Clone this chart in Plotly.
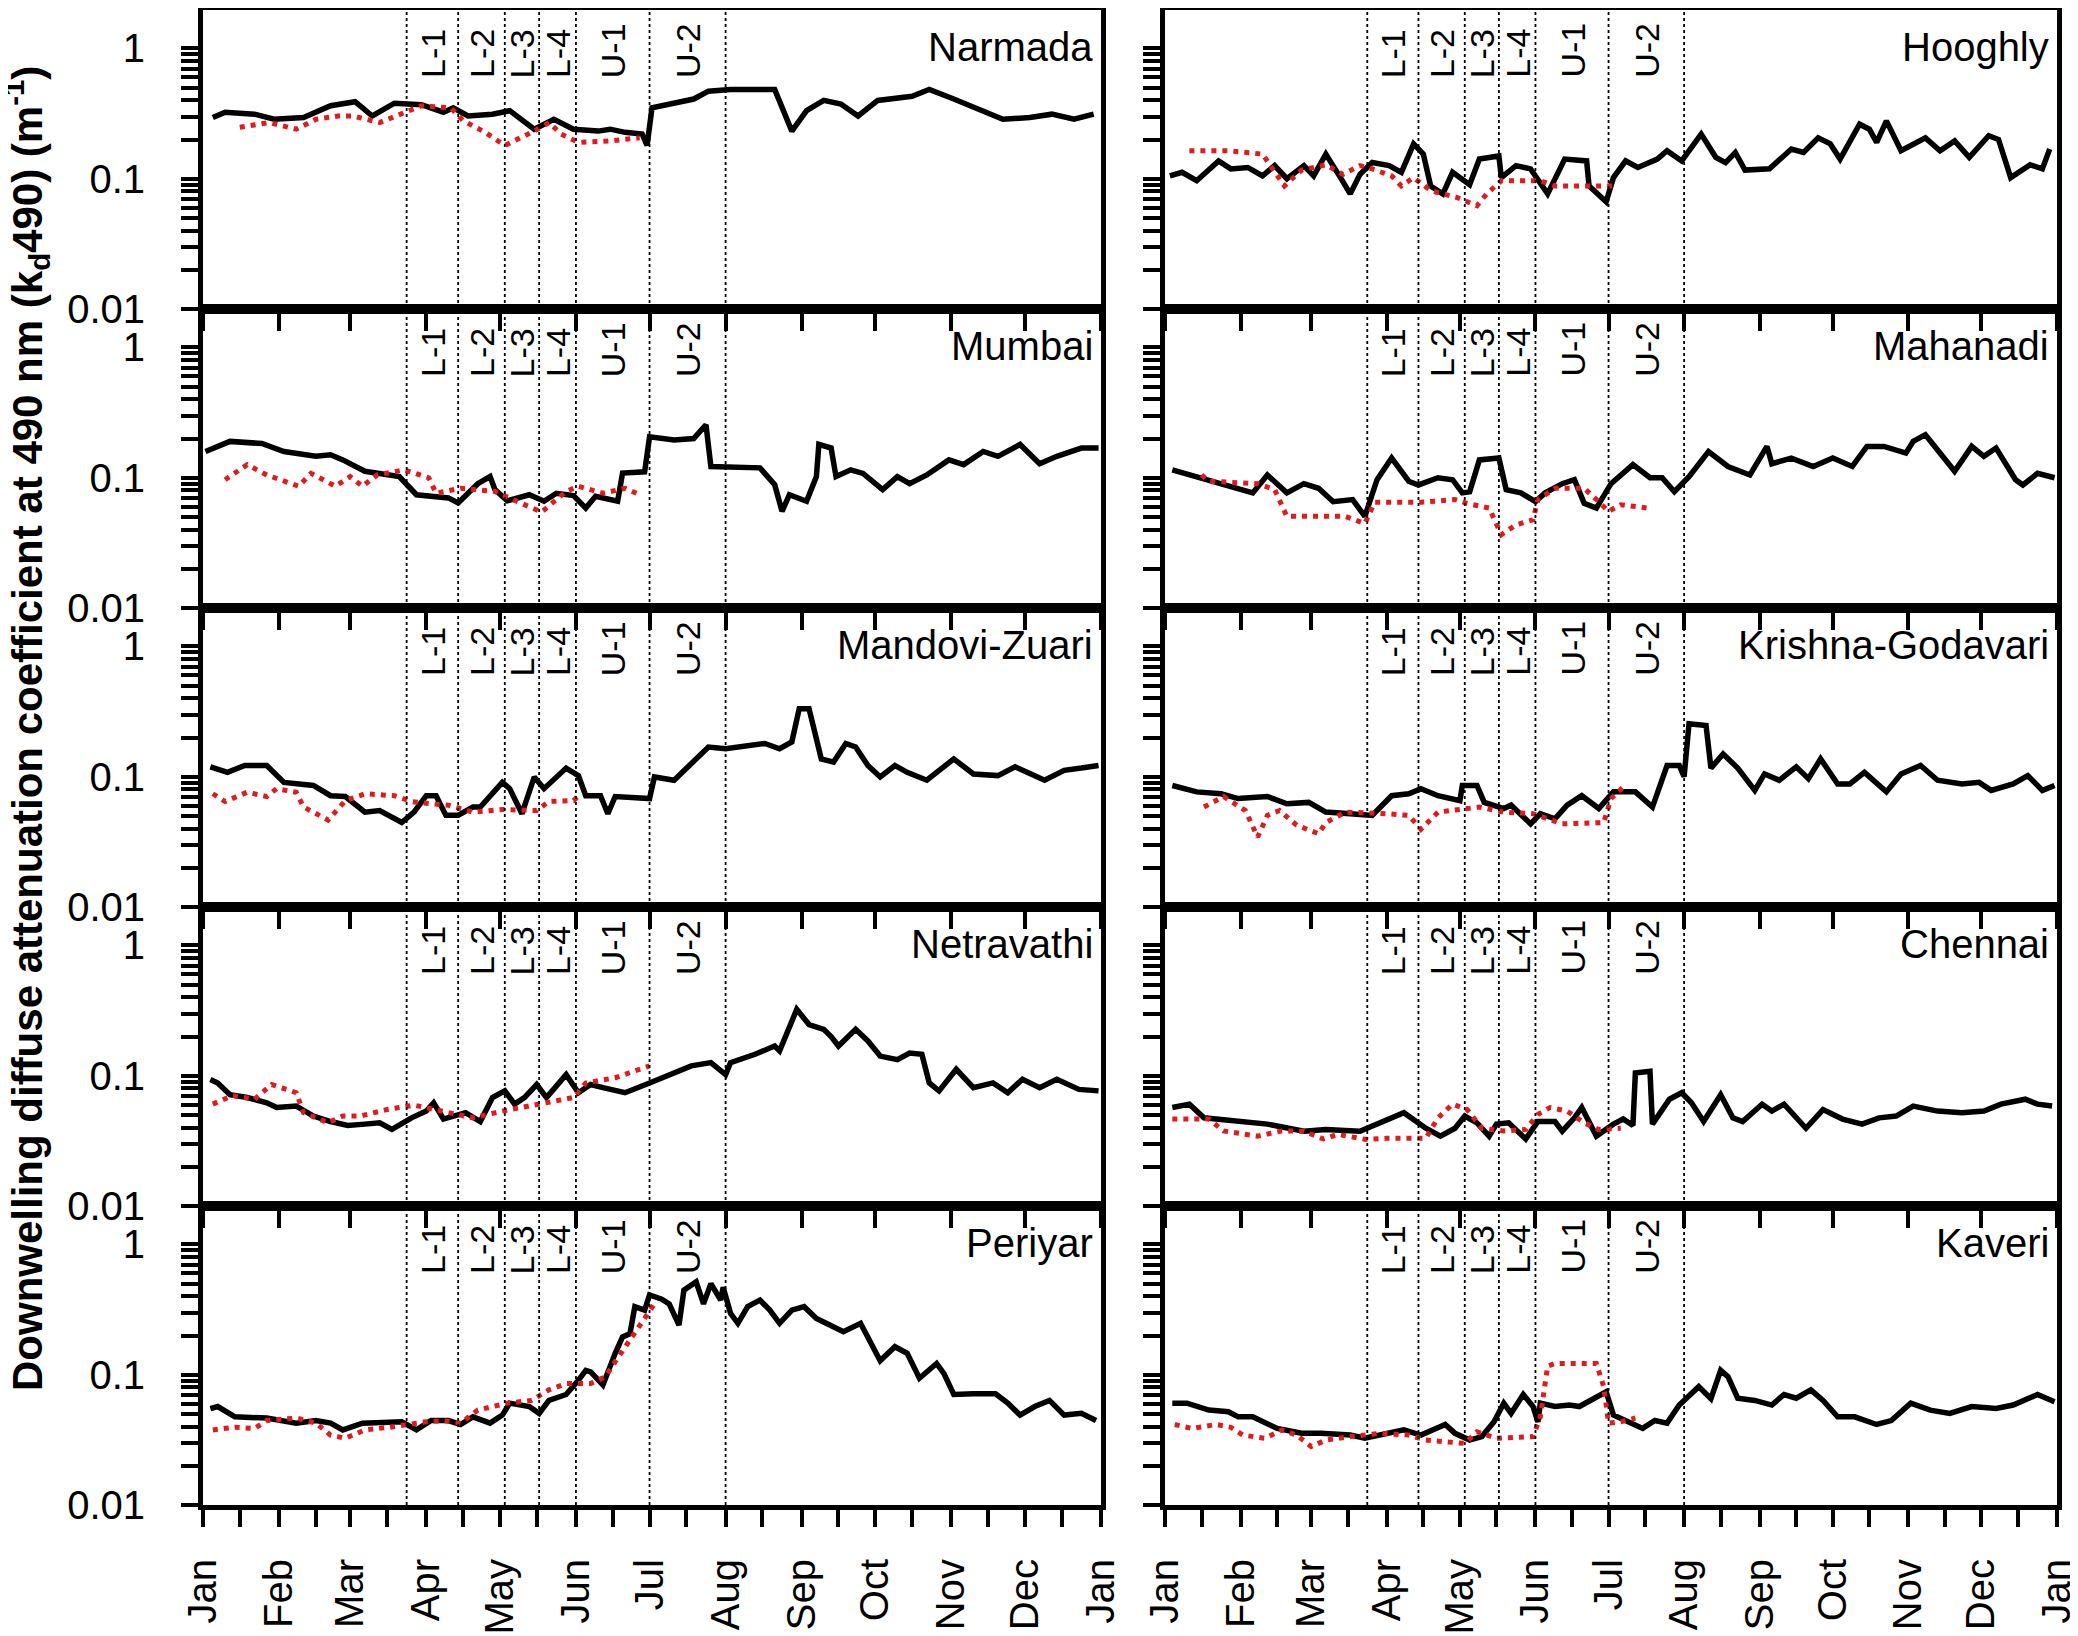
import pandas as pd
import plotly.graph_objects as go
from plotly.subplots import make_subplots

# day of year (0 = 1 Jan 2020) and Kd490 (m^-1)
# black = 2020, red dotted = climatology (Jan-Jul)
narmada_day = [4, 9, 21, 29, 41, 52, 62, 69, 78, 89, 98, 102, 108, 118, 125, 135, 143, 151, 161, 166,
               172, 179, 181, 183, 200, 206, 215, 233, 240, 246, 253, 260, 267, 275, 289, 296, 306, 317, 326, 337,
               346, 355, 363]
narmada_kd = [0.295, 0.324, 0.313, 0.286, 0.295, 0.363, 0.39, 0.303, 0.38, 0.37, 0.324, 0.35, 0.303, 0.313, 0.333, 0.24, 0.286, 0.24, 0.232, 0.24,
              0.227, 0.22, 0.18, 0.35, 0.409, 0.47, 0.484, 0.484, 0.232, 0.333, 0.399, 0.374, 0.303, 0.399, 0.43, 0.484, 0.409, 0.34, 0.286, 0.295,
              0.313, 0.286, 0.313]
narmada_clim_day = [15, 27, 38, 46, 55, 61, 72, 81, 89, 101, 106, 115, 123, 135, 141, 146, 153, 166, 178]
narmada_clim_kd = [0.248, 0.27, 0.24, 0.286, 0.303, 0.303, 0.27, 0.313, 0.363, 0.35, 0.279, 0.227, 0.18, 0.232, 0.27, 0.22, 0.19, 0.195, 0.206]

hooghly_day = [2, 7, 13, 22, 27, 34, 40, 45, 50, 57, 61, 66, 72, 76, 80, 85, 92, 97, 102, 106,
               109, 114, 118, 125, 129, 137, 138, 144, 150, 157, 164, 173, 174, 181, 184, 189, 194, 202, 206, 212,
               220, 226, 230, 234, 238, 248, 257, 262, 268, 273, 277, 285, 289, 292, 296, 302, 312, 318, 324, 330,
               338, 342, 347, 355, 360, 363]
hooghly_kd = [0.105, 0.112, 0.0965, 0.137, 0.119, 0.122, 0.105, 0.126, 0.1, 0.126, 0.105, 0.1545, 0.102, 0.0765, 0.108, 0.133, 0.126, 0.112, 0.185, 0.1545,
              0.088, 0.0765, 0.112, 0.09, 0.1415, 0.1495, 0.102, 0.126, 0.119, 0.0765, 0.1415, 0.137, 0.088, 0.0665, 0.102, 0.137, 0.122, 0.1415, 0.164, 0.137,
              0.22, 0.146, 0.133, 0.159, 0.1165, 0.119, 0.169, 0.159, 0.206, 0.185, 0.1415, 0.262, 0.24, 0.19, 0.278, 0.164, 0.206, 0.164, 0.195, 0.146,
              0.214, 0.2, 0.102, 0.128, 0.119, 0.169]
hooghly_clim_day = [10, 19, 26, 40, 44, 49, 56, 66, 73, 80, 85, 93, 97, 102, 109, 120, 128, 132, 138, 154, 160, 176, 184]
hooghly_clim_kd = [0.164, 0.164, 0.164, 0.1545, 0.122, 0.088, 0.1165, 0.128, 0.108, 0.126, 0.119, 0.105, 0.088, 0.102, 0.081, 0.0715, 0.062, 0.0765,
                   0.0965, 0.0965, 0.088, 0.088, 0.088]

mumbai_day = [1, 11, 24, 33, 46, 52, 57, 66, 80, 87, 100, 104, 112, 117, 119, 124, 133, 139, 144, 151,
              156, 160, 169, 171, 180, 182, 192, 200, 205, 207, 227, 233, 236, 239, 246, 250, 251, 256, 258, 264,
              269, 277, 283, 288, 295, 304, 310, 318, 324, 333, 341, 348, 358, 365]
mumbai_kd = [0.159, 0.19, 0.183, 0.159, 0.146, 0.15, 0.137, 0.112, 0.102, 0.074, 0.070, 0.064, 0.090, 0.102, 0.081, 0.0665, 0.074, 0.066, 0.076, 0.073,
             0.0585, 0.072, 0.066, 0.1085, 0.111, 0.206, 0.195, 0.2, 0.255, 0.122, 0.119, 0.0884, 0.0552, 0.074, 0.066, 0.102, 0.18, 0.169, 0.102, 0.115,
             0.108, 0.081, 0.102, 0.09, 0.105, 0.137, 0.126, 0.159, 0.146, 0.18, 0.128, 0.146, 0.169, 0.169]
mumbai_clim_day = [9, 18, 26, 39, 44, 54, 60, 65, 71, 82, 92, 95, 105, 119, 129, 138, 148, 153, 163, 172, 177]
mumbai_clim_kd = [0.0965, 0.126, 0.105, 0.086, 0.108, 0.086, 0.102, 0.086, 0.105, 0.115, 0.1, 0.076, 0.083, 0.0785, 0.0645, 0.0545, 0.0785, 0.086,
                  0.076, 0.083, 0.0755]

mahanadi_day = [3, 13, 26, 36, 42, 50, 57, 63, 69, 77, 82, 87, 93, 100, 104, 112, 118, 122, 125, 129,
                137, 140, 146, 152, 156, 163, 168, 172, 177, 183, 192, 199, 204, 209, 215, 223, 231, 240, 247, 249,
                257, 266, 274, 282, 288, 295, 304, 307, 312, 324, 331, 336, 341, 349, 352, 358, 365]
mahanadi_kd = [0.115, 0.102, 0.088, 0.0765, 0.105, 0.0765, 0.09, 0.083, 0.0655, 0.068, 0.0505, 0.0965, 0.1415, 0.094, 0.088, 0.1, 0.0965, 0.0765, 0.078, 0.137,
               0.1415, 0.081, 0.0765, 0.0655, 0.0765, 0.09, 0.0965, 0.0635, 0.0585, 0.09, 0.126, 0.1, 0.1, 0.078, 0.102, 0.159, 0.122, 0.105, 0.174, 0.128,
               0.1415, 0.122, 0.1415, 0.122, 0.174, 0.174, 0.1545, 0.19, 0.214, 0.112, 0.174, 0.146, 0.169, 0.0965, 0.088, 0.108, 0.1]
mahanadi_clim_day = [15, 18, 38, 45, 50, 74, 82, 86, 105, 119, 124, 133, 138, 144, 151, 153, 160, 172, 177, 182, 187, 198]
mahanadi_clim_kd = [0.105, 0.094, 0.09, 0.081, 0.0505, 0.0505, 0.0445, 0.0647, 0.0647, 0.068, 0.0635, 0.0585, 0.0365, 0.0435, 0.0475, 0.068, 0.083,
                    0.083, 0.068, 0.0552, 0.062, 0.0585]

mandovi_day = [3, 10, 17, 26, 33, 45, 52, 58, 66, 72, 81, 86, 91, 95, 99, 104, 110, 113, 122, 125,
               130, 135, 139, 148, 153, 156, 162, 165, 168, 182, 184, 192, 206, 213, 229, 235, 240, 243, 247, 252,
               257, 262, 266, 271, 276, 282, 287, 295, 306, 314, 324, 331, 343, 351, 358, 365]
mandovi_kd = [0.119, 0.108, 0.122, 0.122, 0.0905, 0.0856, 0.0715, 0.0705, 0.0535, 0.055, 0.0445, 0.0535, 0.0715, 0.0715, 0.0505, 0.0505, 0.0585, 0.0585, 0.0905, 0.081,
              0.052, 0.0995, 0.081, 0.1165, 0.102, 0.0715, 0.0715, 0.052, 0.0705, 0.068, 0.0995, 0.094, 0.169, 0.164, 0.18, 0.164, 0.185, 0.333, 0.333, 0.137,
              0.1295, 0.18, 0.169, 0.122, 0.0995, 0.122, 0.108, 0.094, 0.137, 0.105, 0.102, 0.119, 0.094, 0.112, 0.1165, 0.122]
mandovi_clim_day = [4, 9, 18, 26, 30, 38, 41, 51, 58, 66, 78, 85, 93, 100, 110, 122, 136, 141, 151, 153]
mandovi_clim_kd = [0.074, 0.0645, 0.076, 0.0705, 0.081, 0.076, 0.0585, 0.0465, 0.0655, 0.074, 0.0715, 0.0645, 0.062, 0.0605, 0.0535, 0.056, 0.055,
                   0.0647, 0.0655, 0.0715]

krishna_day = [3, 13, 23, 30, 42, 50, 59, 66, 76, 85, 93, 100, 105, 112, 121, 122, 128, 131, 139, 142,
               150, 154, 160, 165, 171, 178, 184, 193, 200, 206, 211, 213, 215, 222, 224, 229, 235, 242, 246, 252,
               259, 264, 269, 276, 281, 287, 296, 302, 310, 317, 327, 334, 339, 348, 354, 360, 365]
krishna_kd = [0.0856, 0.0765, 0.074, 0.068, 0.0705, 0.062, 0.0635, 0.0535, 0.052, 0.0505, 0.0715, 0.074, 0.081, 0.0715, 0.0655, 0.0856, 0.0856, 0.0635, 0.057, 0.0605,
              0.0435, 0.052, 0.0475, 0.0605, 0.0715, 0.057, 0.0765, 0.0765, 0.0585, 0.122, 0.122, 0.1, 0.255, 0.247, 0.1165, 0.1495, 0.1165, 0.0785, 0.105, 0.094,
              0.119, 0.0965, 0.137, 0.088, 0.088, 0.108, 0.0765, 0.105, 0.122, 0.094, 0.088, 0.0905, 0.0785, 0.088, 0.102, 0.0785, 0.0856]
krishna_clim_day = [16, 24, 33, 38, 42, 47, 54, 63, 66, 74, 91, 100, 105, 112, 129, 139, 151, 163, 180, 183, 188]
krishna_clim_kd = [0.0585, 0.0705, 0.055, 0.0344, 0.0505, 0.055, 0.0425, 0.0365, 0.0445, 0.0535, 0.052, 0.0505, 0.0395, 0.0535, 0.0585, 0.0535,
                   0.052, 0.0435, 0.0445, 0.068, 0.083]

netravathi_day = [3, 6, 11, 18, 26, 30, 38, 45, 52, 59, 66, 72, 77, 85, 91, 94, 98, 107, 113, 118,
                  123, 127, 131, 136, 140, 148, 153, 158, 163, 172, 182, 192, 199, 207, 213, 215, 225, 233, 235, 240,
                  242, 247, 253, 256, 259, 266, 271, 276, 283, 288, 293, 296, 300, 307, 314, 322, 328, 334, 341, 348,
                  357, 365]
netravathi_kd = [0.0937, 0.088, 0.0715, 0.068, 0.062, 0.057, 0.0585, 0.049, 0.0445, 0.0415, 0.0425, 0.0435, 0.0387, 0.0475, 0.0535, 0.062, 0.0465, 0.052, 0.0445, 0.068,
                 0.0765, 0.0605, 0.068, 0.0856, 0.068, 0.102, 0.074, 0.0856, 0.081, 0.074, 0.088, 0.105, 0.119, 0.126, 0.102, 0.126, 0.146, 0.169, 0.155, 0.262,
                 0.323, 0.247, 0.227, 0.2, 0.169, 0.227, 0.185, 0.1415, 0.133, 0.1495, 0.146, 0.088, 0.0765, 0.112, 0.081, 0.088, 0.074, 0.094, 0.081, 0.094,
                 0.0785, 0.0765]
netravathi_clim_day = [4, 12, 21, 28, 38, 41, 51, 57, 64, 75, 86, 98, 110, 122, 139, 151, 156, 168, 182]
netravathi_clim_kd = [0.0605, 0.0705, 0.066, 0.0856, 0.074, 0.052, 0.0435, 0.049, 0.049, 0.055, 0.0595, 0.0535, 0.0475, 0.0535, 0.062, 0.068,
                      0.088, 0.0965, 0.119]

chennai_day = [3, 10, 16, 30, 42, 57, 66, 80, 88, 98, 107, 113, 119, 123, 128, 133, 136, 141, 148, 153,
               160, 163, 168, 171, 177, 184, 188, 192, 193, 199, 200, 204, 207, 212, 216, 221, 228, 233, 237, 245,
               249, 254, 263, 270, 278, 286, 293, 300, 307, 317, 327, 336, 343, 353, 358, 364]
chennai_kd = [0.057, 0.0605, 0.0475, 0.0445, 0.0425, 0.0375, 0.0387, 0.0375, 0.0435, 0.052, 0.0395, 0.0344, 0.0395, 0.049, 0.0435, 0.0344, 0.0425, 0.0435, 0.0327, 0.0445,
              0.0445, 0.0375, 0.0475, 0.057, 0.0344, 0.0425, 0.0465, 0.0415, 0.105, 0.108, 0.0425, 0.0535, 0.066, 0.074, 0.062, 0.0445, 0.0715, 0.0475, 0.0445, 0.0605,
              0.0535, 0.0605, 0.0395, 0.055, 0.0465, 0.0425, 0.0475, 0.049, 0.0585, 0.0535, 0.052, 0.0535, 0.0605, 0.066, 0.0605, 0.0585]
chennai_clim_day = [3, 18, 24, 38, 48, 57, 65, 71, 82, 91, 107, 112, 118, 124, 130, 139, 148, 153, 158, 165, 172, 178, 187]
chennai_clim_kd = [0.0465, 0.0465, 0.0377, 0.0344, 0.0377, 0.0375, 0.0327, 0.0355, 0.0325, 0.0331, 0.0331, 0.0475, 0.0605, 0.055, 0.0395, 0.0377,
                   0.0387, 0.0505, 0.057, 0.0535, 0.0435, 0.0387, 0.0395]

periyar_day = [3, 6, 13, 26, 38, 46, 52, 57, 65, 74, 81, 87, 93, 100, 105, 110, 117, 122, 125, 133,
               137, 141, 148, 153, 156, 158, 163, 168, 171, 174, 176, 180, 182, 187, 190, 194, 196, 201, 204, 207,
               211, 212, 215, 218, 222, 227, 231, 235, 240, 245, 250, 254, 261, 268, 271, 276, 282, 287, 292, 299,
               302, 306, 314, 323, 328, 333, 339, 345, 351, 358, 364]
periyar_kd = [0.055, 0.057, 0.0475, 0.0465, 0.0425, 0.0445, 0.0425, 0.0377, 0.0425, 0.0425, 0.0435, 0.0377, 0.0445, 0.0445, 0.0415, 0.0475, 0.0425, 0.049, 0.0605, 0.057,
              0.0505, 0.0635, 0.0705, 0.0905, 0.108, 0.105, 0.0835, 0.146, 0.195, 0.206, 0.333, 0.313, 0.409, 0.38, 0.35, 0.24, 0.446, 0.517, 0.35, 0.5,
              0.374, 0.47, 0.296, 0.248, 0.333, 0.374, 0.313, 0.248, 0.313, 0.333, 0.27, 0.248, 0.214, 0.248, 0.195, 0.128, 0.164, 0.146, 0.094, 0.122,
              0.102, 0.0705, 0.0715, 0.0715, 0.0605, 0.049, 0.057, 0.0635, 0.049, 0.0505, 0.0445]
periyar_clim_day = [4, 13, 21, 26, 38, 46, 52, 58, 66, 76, 91, 98, 105, 112, 124, 134, 141, 148, 158, 164, 168, 172, 177, 181, 184]
periyar_clim_kd = [0.0377, 0.0395, 0.0387, 0.0445, 0.0465, 0.0425, 0.0344, 0.0325, 0.0377, 0.0395, 0.0435, 0.0445, 0.0425, 0.0535, 0.0605, 0.0635,
                   0.0765, 0.0856, 0.0856, 0.0965, 0.126, 0.164, 0.227, 0.286, 0.35]

kaveri_day = [3, 9, 18, 26, 30, 36, 46, 56, 64, 76, 82, 91, 98, 105, 115, 119, 125, 130, 135, 139,
              142, 147, 151, 153, 154, 160, 166, 170, 175, 181, 184, 189, 196, 201, 206, 211, 219, 224, 228, 231,
              235, 242, 249, 254, 259, 265, 270, 276, 283, 292, 298, 306, 314, 322, 331, 341, 348, 358, 365]
kaveri_kd = [0.0605, 0.0605, 0.0535, 0.052, 0.0475, 0.0475, 0.0387, 0.0355, 0.0355, 0.0344, 0.0325, 0.0355, 0.0377, 0.0344, 0.0415, 0.0355, 0.0315, 0.0335, 0.0435, 0.0605,
             0.0505, 0.0705, 0.057, 0.0435, 0.0605, 0.057, 0.0585, 0.057, 0.0635, 0.074, 0.049, 0.0445, 0.0387, 0.0445, 0.0425, 0.0585, 0.081, 0.0655, 0.108, 0.0965,
             0.066, 0.0635, 0.0585, 0.0705, 0.066, 0.0765, 0.0635, 0.0475, 0.0475, 0.0415, 0.0445, 0.0605, 0.0535, 0.0505, 0.057, 0.055, 0.0585, 0.0705, 0.062]
kaveri_clim_day = [4, 11, 21, 27, 32, 41, 48, 54, 60, 66, 76, 88, 100, 107, 123, 128, 136, 151, 154, 157, 160, 177, 180, 182, 187, 193]
kaveri_clim_kd = [0.0415, 0.0387, 0.0415, 0.0395, 0.0344, 0.0325, 0.0377, 0.0344, 0.0281, 0.0315, 0.0335, 0.0355, 0.0344, 0.0315, 0.0297, 0.0365,
                  0.0325, 0.0335, 0.0475, 0.1165, 0.122, 0.122, 0.081, 0.0425, 0.0435, 0.0465]

# lockdown / unlock phases
phase_dates = ["2020-03-24", "2020-04-14", "2020-05-03", "2020-05-17", "2020-06-01", "2020-07-01", "2020-08-01"]
phase_labels = ["L-1", "L-2", "L-3", "L-4", "U-1", "U-2"]

month_names = ["Jan", "Feb", "Mar", "Apr", "May", "Jun", "Jul", "Aug", "Sep", "Oct", "Nov", "Dec", "Jan"]

# (name, row, col, 2020 series, climatology series)
panels = [
    ("Narmada", 1, 1, narmada_day, narmada_kd, narmada_clim_day, narmada_clim_kd),
    ("Mumbai", 2, 1, mumbai_day, mumbai_kd, mumbai_clim_day, mumbai_clim_kd),
    ("Mandovi-Zuari", 3, 1, mandovi_day, mandovi_kd, mandovi_clim_day, mandovi_clim_kd),
    ("Netravathi", 4, 1, netravathi_day, netravathi_kd, netravathi_clim_day, netravathi_clim_kd),
    ("Periyar", 5, 1, periyar_day, periyar_kd, periyar_clim_day, periyar_clim_kd),
    ("Hooghly", 1, 2, hooghly_day, hooghly_kd, hooghly_clim_day, hooghly_clim_kd),
    ("Mahanadi", 2, 2, mahanadi_day, mahanadi_kd, mahanadi_clim_day, mahanadi_clim_kd),
    ("Krishna-Godavari", 3, 2, krishna_day, krishna_kd, krishna_clim_day, krishna_clim_kd),
    ("Chennai", 4, 2, chennai_day, chennai_kd, chennai_clim_day, chennai_clim_kd),
    ("Kaveri", 5, 2, kaveri_day, kaveri_kd, kaveri_clim_day, kaveri_clim_kd),
]

start = pd.Timestamp("2020-01-01")


def to_dates(days):
    return start + pd.to_timedelta(days, unit="D")


month_starts = pd.date_range("2020-01-01", "2021-01-01", freq="MS")
half_months = sorted(list(month_starts) + [d + pd.Timedelta(days=15) for d in month_starts[:-1]])
half_text = [month_names[list(month_starts).index(d)] if d in month_starts else " " for d in half_months]

ytick_vals = [m * 10.0 ** e for e in (-2, -1) for m in range(1, 10)] + [1]
ytick_text = ["0.01" if v == 0.01 else "0.1" if v == 0.1 else "1" if v == 1 else " " for v in ytick_vals]

pdates = pd.to_datetime(phase_dates)
phase_mid = [pdates[i] + (pdates[i + 1] - pdates[i]) / 2 for i in range(len(phase_labels))]

# page has an 8px body margin, so the figure is laid out 8px smaller / shifted
W, H = 2070, 1628
xdom = [[195 / W, 1093 / W], [1157 / W, 2049 / W]]
ROW_H = 299
row_top = [2 + ROW_H * i for i in range(5)]

fig = make_subplots(rows=5, cols=2, vertical_spacing=0, horizontal_spacing=0.03)

font_main = "Liberation Sans, Arial, sans-serif"

for name, row, col, day, kd, cday, ckd in panels:
    n = (row - 1) * 2 + col
    s = "" if n == 1 else str(n)

    fig.add_trace(go.Scatter(x=to_dates(day), y=kd, mode="lines",
                             line=dict(color="black", width=5.5)), row=row, col=col)
    fig.add_trace(go.Scatter(x=to_dates(cday), y=ckd, mode="lines",
                             line=dict(color="#e31a1c", width=5, dash="5px,6px")), row=row, col=col)

    top = row_top[row - 1]
    ydom = [1 - (top + ROW_H) / H, 1 - top / H]

    if row == 5:
        xt = dict(tickvals=half_months, ticktext=half_text, showticklabels=True)
    else:
        xt = dict(tickvals=list(month_starts), showticklabels=False)
    fig.update_xaxes(domain=xdom[col - 1], range=["2020-01-01", "2021-01-01"], automargin=False,
                     showline=True, linewidth=5, linecolor="black", mirror=True,
                     ticks="outside", ticklen=17, tickwidth=4, tickcolor="black",
                     tickangle=-90, tickfont=dict(size=40, color="black"), ticklabelstandoff=16,
                     ticklabeloverflow="allow",
                     showgrid=False, zeroline=False, row=row, col=col, **xt)
    fig.update_yaxes(domain=ydom, type="log", range=[-2, 0.295], automargin=False,
                     tickvals=ytick_vals, ticktext=ytick_text, showticklabels=(col == 1),
                     showline=True, linewidth=5, linecolor="black", mirror=True,
                     ticks="outside", ticklen=17, tickwidth=4, tickcolor="black",
                     tickfont=dict(size=40, color="black"), ticklabelstandoff=28,
                     ticklabeloverflow="allow",
                     showgrid=False, zeroline=False, row=row, col=col)

    for d in phase_dates:
        fig.add_shape(type="line", x0=d, x1=d, y0=0, y1=1, xref=f"x{s}", yref=f"y{s} domain",
                      line=dict(color="black", width=1.8, dash="dot"))

    for lab, m in zip(phase_labels, phase_mid):
        fig.add_annotation(x=m, y=1 - 70 / ROW_H, xref=f"x{s}", yref=f"y{s} domain",
                           text=lab, textangle=-90, showarrow=False,
                           xanchor="center", yanchor="bottom",
                           font=dict(family=font_main, size=34, color="black"))

    fig.add_annotation(x=0.993, y=1 - 13 / ROW_H, xref=f"x{s} domain", yref=f"y{s} domain",
                       text=name, showarrow=False, xanchor="right", yanchor="top",
                       font=dict(family=font_main, size=40, color="black"))

fig.add_annotation(x=18 / W, y=1 - 721 / H, xref="paper", yref="paper",
                   text="<b>Downwelling diffuse attenuation coefficient at 490 nm (k<sub>d</sub>490) (m<sup>-1</sup>)</b>",
                   textangle=-90, showarrow=False, xanchor="center", yanchor="middle",
                   font=dict(family=font_main, size=42, color="black"))

fig.update_layout(width=W, height=H, margin=dict(l=0, r=0, t=0, b=0),
                  paper_bgcolor="white", plot_bgcolor="rgba(0,0,0,0)",
                  showlegend=False, font=dict(family=font_main, color="black"))

fig.write_html("out.html")
